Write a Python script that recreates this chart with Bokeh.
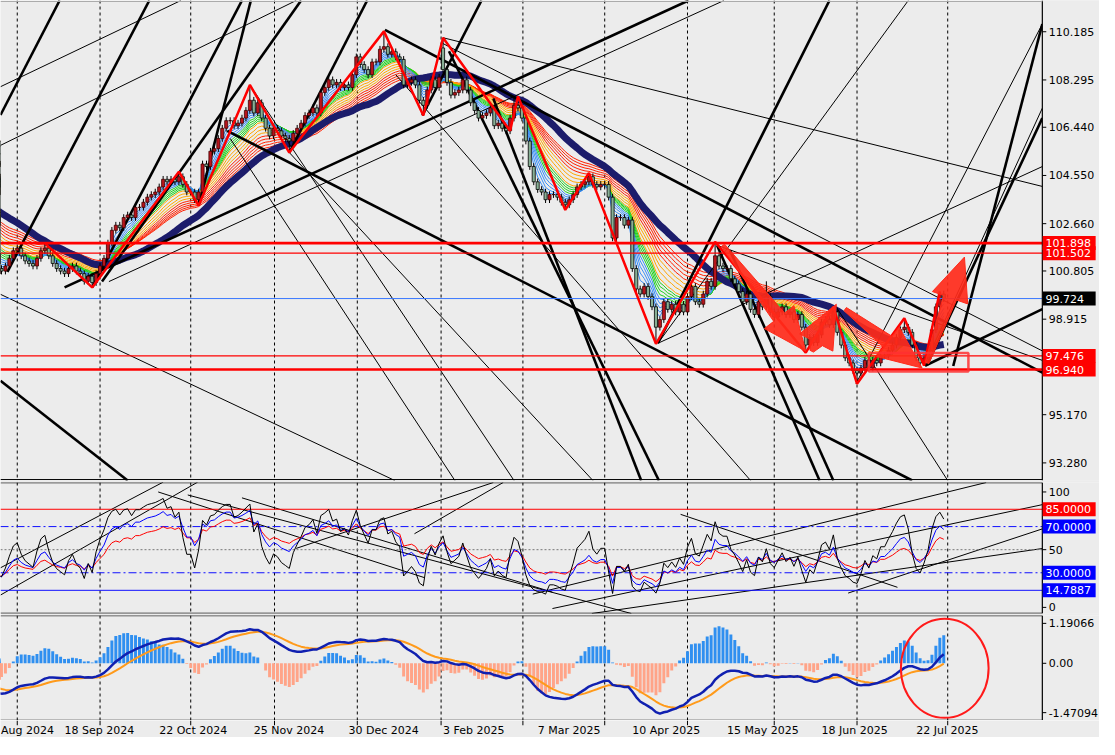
import numpy as np
from bokeh.plotting import figure
from bokeh.layouts import gridplot
from bokeh.models import Span, Range1d
from bokeh.core.properties import value
from bokeh.embed import file_html
from bokeh.resources import INLINE

# ---------------- data ----------------
history_close = [105.9, 105.7, 105.4, 104.9, 105.0, 105.1, 105.0, 104.4, 104.1, 104.2,
                 104.2, 103.8, 104.2, 104.4, 104.3, 104.5, 104.4, 104.4, 104.3, 104.6,
                 104.4, 104.1, 104.4, 103.2, 102.7, 102.9, 103.2, 103.1, 103.1, 103.1,
                 102.6, 102.6, 103.0, 102.4, 101.9, 101.4, 101.1, 101.5, 100.7, 100.9]
closes = [100.8, 101.0, 101.3, 101.6, 101.7, 101.4, 101.2, 101.1, 101.0, 101.3, 101.6, 101.7,
          101.4, 101.1, 100.9, 100.8, 100.7, 100.9, 101.0, 100.8, 100.7, 100.4, 100.6, 100.35,
          100.7, 101.0, 101.3, 101.9, 102.4, 102.6, 102.5, 102.9, 103.0, 102.9, 103.3, 103.3,
          103.5, 103.7, 103.8, 103.9, 104.1, 104.4, 104.3, 104.4, 104.3, 104.5, 104.2, 103.9,
          103.9, 103.6, 103.9,
          105.0, 104.9, 105.5, 105.6, 106.0, 106.4, 106.7, 106.7, 106.5, 106.6, 106.8, 107.1,
          107.5, 107.0, 107.4, 106.8, 106.4, 106.1, 106.4, 106.3, 106.1, 106.0, 105.9, 106.2,
          106.4, 106.6, 106.9, 107.0, 107.2, 107.0, 107.8, 108.0, 108.3, 108.1, 108.2, 108.0,
          108.1, 108.0, 108.5, 109.2, 108.9, 108.7,
          108.5, 109.0, 109.0, 109.5, 109.6, 109.3, 109.4, 109.2, 109.1, 108.1, 108.2, 108.3,
          108.1, 107.5, 107.3, 107.9, 108.3, 108.0, 108.4, 108.7, 108.2, 107.7, 107.8, 107.9,
          108.3, 107.9, 107.4, 107.1, 106.8, 106.9, 107.0, 107.2, 106.5, 106.6, 106.4, 106.3,
          106.8, 107.3, 107.2, 106.8, 105.9, 104.9, 104.3, 104.0, 103.9, 103.6, 103.8, 103.8,
          103.7, 103.5, 103.4,
          103.6, 103.8, 104.1, 104.2, 104.3, 104.5, 104.2, 104.1, 104.2, 104.2, 103.7, 102.1,
          102.9, 102.9, 102.6, 102.8, 100.9, 100.1, 99.9, 100.2, 99.8, 99.4, 98.6, 98.9,
          99.6, 99.3, 99.5, 99.2, 99.5, 99.2, 99.8, 100.2, 99.6, 99.5, 99.9, 100.4, 100.2,
          101.4, 101.0, 100.9, 100.9, 100.5, 100.3, 100.0, 99.6, 99.9, 99.3, 99.1, 99.6,
          99.4, 99.8, 99.2, 99.0, 99.2, 99.4, 99.1, 99.2, 98.9, 99.1, 98.6, 97.9,
          98.2, 98.0, 98.3, 98.8, 98.9, 98.7, 99.2, 98.4, 97.9, 97.4, 97.2, 96.9,
          96.8, 97.0, 97.3, 97.0, 97.3, 97.2, 97.5, 97.5, 97.7, 97.9, 98.2, 98.5,
          98.6, 98.4, 97.9, 97.4, 97.2, 97.4, 97.7, 98.5, 99.4, 99.9, 99.72]
gap_open = {112: 109.55}
extreme_high = {4: 101.85, 11: 101.9, 45: 104.7, 63: 108.1, 97: 110.2, 112: 109.95, 130: 107.65,
                149: 104.65, 181: 101.95, 194: 100.4, 211: 99.4, 229: 98.95, 238: 100.0}
extreme_low = {23: 100.16, 50: 103.37, 73: 105.45, 107: 106.9, 143: 103.2, 166: 97.95,
               204: 97.6, 217: 96.38, 234: 97.1}

zz_i = [11, 23, 45, 50, 63, 73, 97, 107, 112, 129, 131, 143, 149, 166, 181, 204, 211, 217, 229, 234, 238]
zz_p = [101.9, 100.16, 104.7, 103.37, 108.1, 105.45, 110.2, 106.9, 109.95, 106.3, 107.65, 103.2,
        104.65, 97.95, 101.95, 97.6, 99.4, 96.38, 98.95, 97.1, 100.0]

level_thick = [101.898, 96.940]
level_thin = [101.502, 97.476]
level_blue = 99.724
price_ticks = [110.185, 108.295, 106.440, 104.550, 102.660, 100.805, 98.915, 95.170, 93.280]

date_bars = [-0.1, 16, 40, 64, 88, 112, 136, 160, 184, 208, 232]
date_labels = ["Aug 2024", "18 Sep 2024", "22 Oct 2024", "25 Nov 2024", "30 Dec 2024",
               "3 Feb 2025", "7 Mar 2025", "10 Apr 2025", "15 May 2025", "18 Jun 2025", "22 Jul 2025"]
grid_bars = [4, 25, 48, 69.25, 90.25, 111.5, 132.25, 153, 174, 196, 217, 240]

# trend lines: (bar, price, bar, price)
thick_lines = [
    (16, 100.16, 174.25, 111.41), (57.25, 106.30, 231, 92.59), (97.25, 110.26, 264, 96.82),
    (234.25, 97.09, 264, 99.31), (-0.25, 106.92, 14.75, 111.41), (1.5, 100.77, 37.5, 111.41),
    (25.5, 100.39, 76, 111.41), (23, 100.16, 61, 111.41), (50, 103.37, 63.25, 111.41),
    (73, 105.45, 92.75, 111.41), (106.75, 106.9, 121.75, 111.41),
    (166.5, 97.97, 210, 111.41), (234.75, 97.12, 264, 106.8),
    (241.4, 97.08, 264, 110.49), (113.5, 109.42, 166.75, 92.59), (124.75, 107.57, 162.25, 92.59),
    (181.5, 101.81, 207.5, 92.59), (184.75, 101.62, 211, 92.59), (-0.25, 96.5, 32, 92.59)]
thin_lines = [
    (-0.25, 108.03, 45.5, 111.41), (-0.25, 105.73, 74.75, 111.41), (27.25, 100.39, 183.25, 111.41),
    (-0.25, 99.89, 99.75, 92.59), (216.75, 96.39, 264, 110.49), (234, 97.08, 264, 107.19),
    (112, 109.95, 264, 104.12), (112, 109.72, 264, 97.67), (63, 108.1, 130, 92.59),
    (58, 106.0, 115, 92.59), (73, 105.45, 150, 92.59), (166.5, 97.97, 264, 104.9),
    (166.5, 97.97, 230, 111.41), (211.75, 99.39, 240, 92.59), (181.5, 101.81, 264, 97.3),
    (100, 108.5, 190, 92.59)]

arrows = [(183, 101.81, 204, 97.66), (205.5, 97.66, 211.75, 99.5),
          (214, 99.31, 233.5, 97.0), (234.75, 97.2, 244.25, 101.35)]
box = (220, 245.25, 96.86, 97.59)

rsi_thin = [(-0.25, 34.3, 41, 108.5), (-0.25, 10.7, 49.75, 108.5), (39.75, 100, 107.25, 25.8),
            (47.25, 97.4, 159.75, -5.3), (61, 94.9, 139.75, 13.2), (74.75, 51.1, 124.75, 108.2),
            (104.75, 63.8, 127.25, 108.2), (134.75, 11.5, 249.75, 108.2), (139.75, -1, 264, 89),
            (149.75, -5.3, 264, 51), (214.75, 12.4, 264, 68), (172.25, 80.6, 227.25, 17.4)]
macd_ticks = [1.19066, 0.0, -1.47094]
macd_tick_text = ["1.19066", "0.00", "-1.47094"]

# ---------------- computations ----------------
allc = np.array(history_close + closes, dtype=float)
nh = len(history_close)
idx = np.arange(-nh, len(closes))
opens = np.r_[allc[0], allc[:-1]]
for k, v in gap_open.items():
    opens[k + nh] = v
highs = np.maximum(opens, allc) + 0.13
lows = np.minimum(opens, allc) - 0.13
for k, v in extreme_high.items():
    highs[k + nh] = v
for k, v in extreme_low.items():
    lows[k + nh] = v


def ema(x, n):
    a = 2.0 / (n + 1)
    out = np.empty_like(x)
    out[0] = x[0]
    for k in range(1, len(x)):
        out[k] = a * x[k] + (1 - a) * out[k - 1]
    return out


def sma(x, n):
    out = np.full(len(x), np.nan)
    for k in range(n - 1, len(x)):
        out[k] = x[k - n + 1:k + 1].mean()
    return out


def rsi(x, n):
    d = np.diff(x)
    g = np.where(d > 0, d, 0.0)
    l = np.where(d < 0, -d, 0.0)
    ag = np.mean(g[:n]); al = np.mean(l[:n])
    out = np.full(len(x), np.nan)
    for k in range(n, len(d)):
        ag = (ag * (n - 1) + g[k]) / n
        al = (al * (n - 1) + l[k]) / n
        out[k + 1] = 100.0 if al == 0 else 100 - 100 / (1 + ag / al)
    return out


BG = "#ececec"
XEND = 264.0          # price-axis line position (bars)
XR = Range1d(-0.25, 278.5)
FONT = value("DejaVu Sans")


def base(h, y0, y1, bb=2):
    p = figure(frame_width=1099, frame_height=h, x_range=XR, y_range=Range1d(y0, y1),
               x_axis_location=None, y_axis_location=None,
               toolbar_location=None, output_backend="svg", min_border_left=0,
               min_border_top=0, min_border_right=0, min_border_bottom=bb)
    p.background_fill_color = BG
    p.border_fill_color = BG
    p.outline_line_color = None
    p.xgrid.visible = False
    p.ygrid.visible = False
    return p


def vgrid(p):
    for g in grid_bars:
        p.add_layout(Span(location=g, dimension="height", line_color="black", line_width=1,
                          line_dash="3 3", level="underlay"))


def axis_panel(p, y0, y1, ticks, texts, tags, top_color="black"):
    # cover the strip right of the price axis, then draw axis, ticks, labels, tags
    p.quad(left=XEND, right=300, bottom=y0 - 10, top=y1 + 10, fill_color=BG, line_color=None)
    p.segment(XEND, y0, XEND, y1, line_color="black", line_width=1.2)
    span = y1 - y0
    p.segment(-0.25, y1 - span * 0.002, XEND, y1 - span * 0.002, line_color=top_color, line_width=1)
    p.segment(-0.25, y0 + span * 0.002, XEND, y0 + span * 0.002, line_color="black", line_width=1)
    p.segment([XEND] * len(ticks), ticks, [XEND + 1.0] * len(ticks), ticks, line_color="black")
    p.text([XEND + 1.6] * len(ticks), ticks, texts, text_font=FONT, text_font_size="11px",
           text_baseline="middle", text_align="left", text_color="black")
    if tags:
        ys = [t[0] for t in tags]
        p.rect([XEND + 6.8] * len(ys), ys, width=53, height=14, width_units="screen",
               height_units="screen", fill_color=[t[2] for t in tags], line_color=None)
        p.text([XEND + 0.8] * len(ys), ys, [t[1] for t in tags], text_font=FONT,
               text_font_size="11px", text_baseline="middle", text_align="left",
               text_color="white")


# ---------------- main panel ----------------
Y0, Y1 = 92.59, 111.41
p1 = base(480, Y0, Y1)
vgrid(p1)

ribbon = [(3, "#3a8ef5"), (4, "#3a8ef5"), (5, "#3a8ef5"), (6, "#3a8ef5"), (7, "#3a8ef5"),
          (8, "#1fd11f"), (9, "#1fd11f"), (10, "#1fd11f"), (11, "#1fd11f"),
          (12, "#ffa500"), (14, "#ffa500"), (16, "#ffa500"), (18, "#ffa500"),
          (20, "#ff2000"), (22, "#ff2000"), (24, "#ff2000"), (26, "#ff2000"), (28, "#ff2000")]
for n, c in ribbon[::-1]:
    p1.line(idx, ema(allc, n), line_color=c, line_width=1)
p1.line(idx, sma(allc, 30), line_color="#1c1c6b", line_width=7)

for (a, b, c, d) in thin_lines:
    p1.segment(a, b, c, d, line_color="black", line_width=1)
for (a, b, c, d) in thick_lines:
    p1.segment(a, b, c, d, line_color="black", line_width=2.6)

up = allc >= opens
p1.segment(idx, highs, idx, lows, line_color="black", line_width=1)
p1.vbar(idx[up], 0.78, allc[up], opens[up], fill_color="#b8141c", line_color="#400000", line_width=0.8)
p1.vbar(idx[~up], 0.78, opens[~up], allc[~up], fill_color="#88b095", line_color="black", line_width=0.8)

for y in level_thick:
    p1.segment(-0.25, y, XEND, y, line_color="#ff0000", line_width=2.6)
for y in level_thin:
    p1.segment(-0.25, y, XEND, y, line_color="#ff0000", line_width=1.3)
p1.segment(-0.25, level_blue, XEND, level_blue, line_color="#3a78ff", line_width=1)

p1.line(zz_i, zz_p, line_color="#ff0000", line_width=2.5)

# arrows as tapered polygons (aspect: 4 px per bar, 26 px per price unit)
sx, sy = 4.0, 26.03
xs_all, ys_all = [], []
for (x0, y0, x1, y1) in arrows:
    P0 = np.array([x0 * sx, y0 * sy]); P1 = np.array([x1 * sx, y1 * sy])
    d = P1 - P0; L = np.hypot(*d); u = d / L; nrm = np.array([-u[1], u[0]])
    H, W, w0, w1 = 44.0, 19.0, 2.0, 7.0
    B = P1 - u * H
    pts = [P0 + nrm * w0, B + nrm * w1, B + nrm * W, P1, B - nrm * W, B - nrm * w1, P0 - nrm * w0]
    xs_all.append([q[0] / sx for q in pts]); ys_all.append([q[1] / sy for q in pts])
p1.patches(xs_all, ys_all, fill_color="#ff2a1a", fill_alpha=0.92, line_color="#ff2a1a", line_width=1)
p1.quad(left=box[0], right=box[1], bottom=box[2], top=box[3], fill_alpha=0,
        line_color="#ff3030", line_width=2.5, line_alpha=0.85)

tags1 = [(y, f"{y:.3f}", "#ff0000") for y in level_thick + level_thin] + \
        [(level_blue, f"{level_blue:.3f}", "black")]
axis_panel(p1, Y0, Y1, price_ticks, [f"{t:.3f}" for t in price_ticks], tags1, top_color="#a8a8a8")

# ---------------- RSI panel ----------------
R0, R1 = -5.3, 108.2
p2 = base(131, R0, R1)
vgrid(p2)
for (a, b, c, d) in rsi_thin:
    p2.segment(a, b, c, d, line_color="black", line_width=1)
p2.segment(-0.25, 85, XEND, 85, line_color="#ff0000", line_width=1)
p2.segment(-0.25, 70, XEND, 70, line_color="#1010ff", line_width=1, line_dash="8 3 2 3")
p2.segment(-0.25, 30, XEND, 30, line_color="#1010ff", line_width=1, line_dash="8 3 2 3")
p2.segment(-0.25, 50, XEND, 50, line_color="#777777", line_width=1, line_dash="2 2")
p2.segment(-0.25, 14.7887, XEND, 14.7887, line_color="#1010ff", line_width=1)
p2.line(idx, rsi(allc, 21), line_color="#ff0000", line_width=1)
p2.line(idx, rsi(allc, 12), line_color="#0000ff", line_width=1)
p2.line(idx, rsi(allc, 6), line_color="black", line_width=1)
tags2 = [(85, "85.0000", "#ff0000"), (70, "70.0000", "#0000ff"), (30, "30.0000", "#0000ff"),
         (14.7887, "14.7887", "#0000ff")]
axis_panel(p2, R0, R1, [100, 50, 0], ["100", "50", "0"], tags2)

# ---------------- MACD panel ----------------
M0, M1 = -1.705, 1.425
p3 = base(105, M0, M1, bb=0)
vgrid(p3)
macd = ema(allc, 12) - ema(allc, 26)
sig = ema(macd, 9)
hist = 3.0 * (macd - sig)
pos = hist >= 0
p3.vbar(idx[pos], 0.75, hist[pos], 0, fill_color="#2f8ff0", line_color=None)
p3.vbar(idx[~pos], 0.75, 0, hist[~pos], fill_color="#ffa488", line_color=None)
p3.line(idx, sig, line_color="#ff9a1a", line_width=2)
p3.line(idx, macd, line_color="#1020b0", line_width=2.5)
p3.ellipse(x=[239.25], y=[-0.15], width=22.25, height=2.95, fill_alpha=0, line_color="#ff1a1a", line_width=2)
axis_panel(p3, M0, M1, macd_ticks, macd_tick_text, None)

# ---------------- date strip ----------------
p4 = base(17, 0, 1, bb=0)
p4.segment(grid_bars, [1.0] * len(grid_bars), grid_bars, [0.72] * len(grid_bars),
           line_color="black", line_width=1)
p4.text(date_bars, [0.42] * len(date_bars), date_labels, text_font=FONT, text_font_size="11px",
        text_baseline="middle", text_align="left", text_color="black")

grid = gridplot([[p1], [p2], [p3], [p4]], toolbar_location=None)
grid.spacing = 0
open("out.html", "w").write(file_html(grid, INLINE))
